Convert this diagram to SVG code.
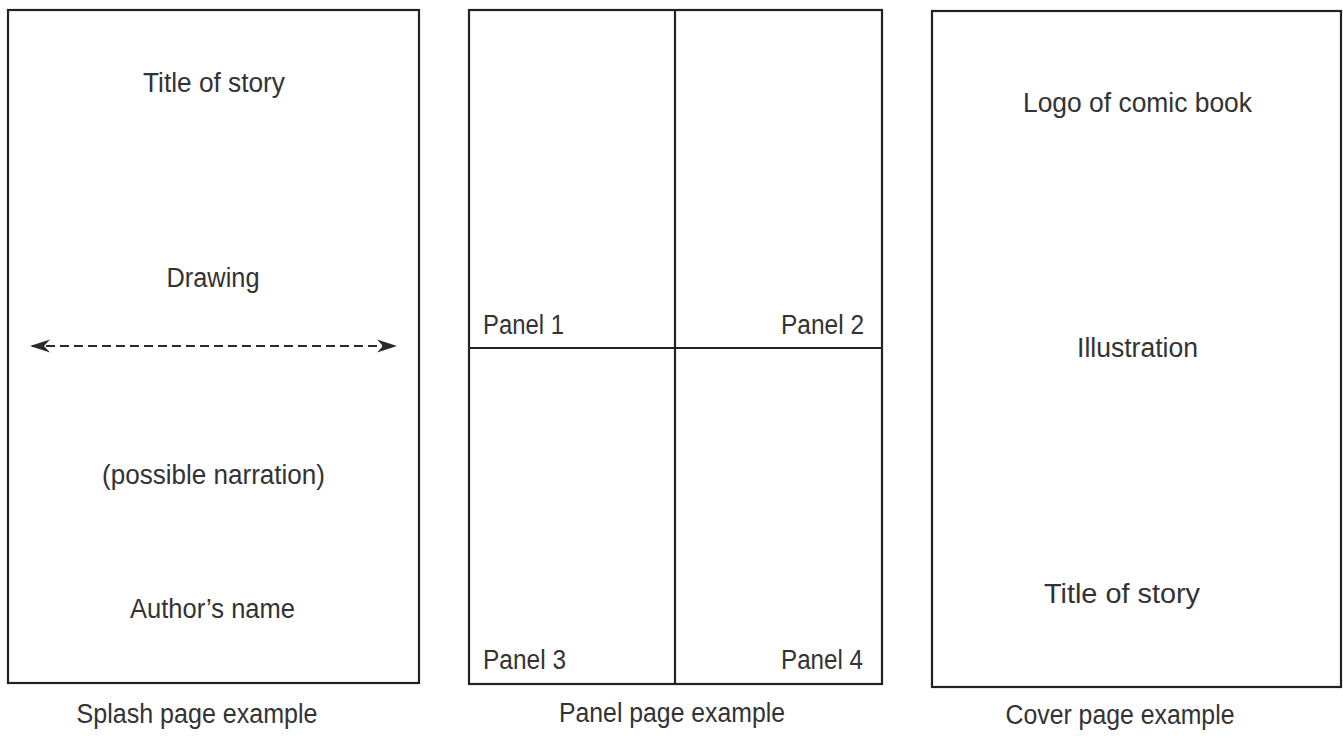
<svg xmlns="http://www.w3.org/2000/svg" width="1343" height="748" viewBox="0 0 1343 748">
  <style>
    .frame { fill: none; stroke: #222; stroke-width: 2.2; }
    .rule { stroke: #222; stroke-width: 2.2; }
    .lbl { font-family: "Liberation Sans", Arial, sans-serif; font-size: 27px; fill: #333; }
    .mid { text-anchor: middle; }
    .end { text-anchor: end; }
    .guide { stroke: #2a2a2a; stroke-width: 2; stroke-dasharray: 9 5; fill: none; }
  </style>
  <defs>
    <marker id="head" viewBox="0 0 20 14" refX="18" refY="7" markerWidth="20" markerHeight="14" markerUnits="userSpaceOnUse" orient="auto-start-reverse">
      <path d="M0,0.5 L20,7 L0,13.5 L6,7 Z" fill="#2a2a2a"/>
    </marker>
  </defs>
  <rect width="1343" height="748" fill="#fff"/>

  <!-- Splash page layout -->
  <g id="splash-page">
    <rect class="frame" x="8" y="10" width="411" height="673"/>
    <text class="lbl mid" x="214" y="92" textLength="142" lengthAdjust="spacingAndGlyphs">Title of story</text>
    <text class="lbl mid" x="213" y="287" textLength="93" lengthAdjust="spacingAndGlyphs">Drawing</text>
    <text class="lbl mid" x="213.5" y="484" textLength="223" lengthAdjust="spacingAndGlyphs">(possible narration)</text>
    <text class="lbl mid" x="212.5" y="618" textLength="165" lengthAdjust="spacingAndGlyphs">Author’s name</text>
  </g>

  <!-- Panel page layout: four panels -->
  <g id="panel-page">
    <rect class="frame" x="469" y="10" width="413" height="674"/>
    <line class="rule" x1="675" y1="10" x2="675" y2="684"/>
    <line class="rule" x1="469" y1="348" x2="882" y2="348"/>
    <text class="lbl" x="483" y="334" textLength="81" lengthAdjust="spacingAndGlyphs">Panel 1</text>
    <text class="lbl end" x="864" y="334" textLength="83" lengthAdjust="spacingAndGlyphs">Panel 2</text>
    <text class="lbl" x="483" y="669" textLength="83" lengthAdjust="spacingAndGlyphs">Panel 3</text>
    <text class="lbl end" x="863" y="669" textLength="82" lengthAdjust="spacingAndGlyphs">Panel 4</text>
  </g>

  <!-- Cover page layout -->
  <g id="cover-page">
    <rect class="frame" x="932" y="11" width="409" height="676"/>
    <text class="lbl mid" x="1137.5" y="112" textLength="229" lengthAdjust="spacingAndGlyphs">Logo of comic book</text>
    <text class="lbl mid" x="1137.5" y="357" textLength="121" lengthAdjust="spacingAndGlyphs">Illustration</text>
    <text class="lbl mid" x="1122" y="603" textLength="156" lengthAdjust="spacingAndGlyphs">Title of story</text>
  </g>

  <!-- Captions -->
  <g id="captions">
    <text class="lbl mid" x="197" y="723" textLength="241" lengthAdjust="spacingAndGlyphs">Splash page example</text>
    <text class="lbl mid" x="672" y="722" textLength="226" lengthAdjust="spacingAndGlyphs">Panel page example</text>
    <text class="lbl mid" x="1120" y="724" textLength="229" lengthAdjust="spacingAndGlyphs">Cover page example</text>
  </g>

  <!-- Connectors -->
  <g id="connectors">
    <line class="guide" x1="32" y1="346" x2="395" y2="346" marker-start="url(#head)" marker-end="url(#head)"/>
  </g>
</svg>
